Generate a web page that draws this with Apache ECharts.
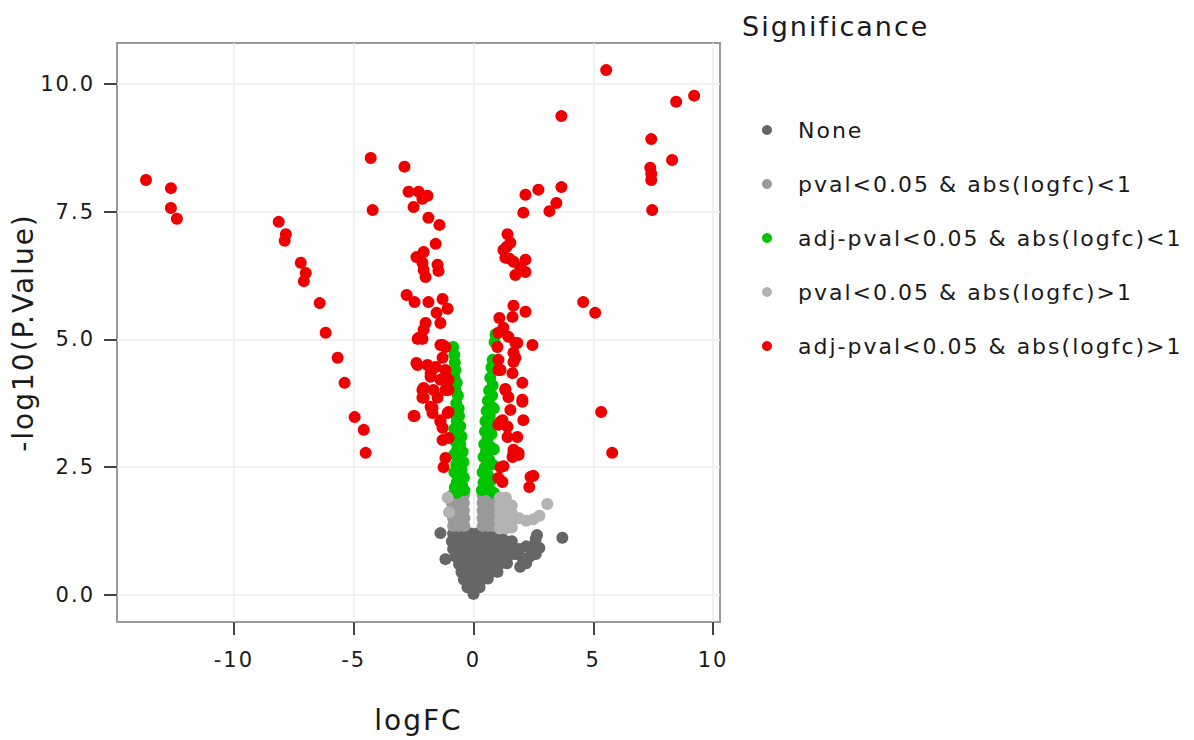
<!DOCTYPE html>
<html>
<head>
<meta charset="utf-8">
<title>Volcano plot</title>
<script src="https://cdn.jsdelivr.net/npm/echarts@6/dist/echarts.min.js"></script>
<style>
	html, body { margin: 0; padding: 0; background: #fff; }
	#chart { width: 1194px; height: 740px; }
	#chart text { letter-spacing: 2px; }
</style>
</head>
<body>
<div id="chart"></div>
<script>
// 分组名称
var groups = ['None', 'pval<0.05 & abs(logfc)<1', 'adj-pval<0.05 & abs(logfc)<1', 'pval<0.05 & abs(logfc)>1', 'adj-pval<0.05 & abs(logfc)>1']
var colors = ['#666666', '#999999', '#00c400', '#b3b3b3', '#ee0000']

var xTicks = [-10, -5, 0, 5, 10]
var yTicks = [0, 2.5, 5, 7.5, 10]

// [logFC, -log10(P.Value)]
var nonePts = [
	[-0.85, 1.2], [-0.6, 1.2], [-0.35, 1.2], [-0.1, 1.2], [0.15, 1.2], [0.4, 1.2], [0.65, 1.2], [0.9, 1.2], [1.15, 1.2],
	[-0.9, 1.05], [-0.65, 1.05], [-0.4, 1.05], [-0.15, 1.05], [0.1, 1.05], [0.35, 1.05], [0.6, 1.05], [0.85, 1.05], [1.1, 1.05], [1.35, 1.05], [1.6, 1.05], [2.6, 1.1],
	[-0.85, 0.9], [-0.6, 0.9], [-0.35, 0.9], [-0.1, 0.9], [0.15, 0.9], [0.4, 0.9], [0.65, 0.9], [0.9, 0.9], [1.15, 0.9], [1.4, 0.9], [1.65, 0.9], [1.9, 0.9], [2.2, 0.95], [2.45, 0.95], [2.75, 0.92],
	[-0.75, 0.75], [-0.5, 0.75], [-0.25, 0.75], [0, 0.75], [0.25, 0.75], [0.5, 0.75], [0.75, 0.75], [1.0, 0.75], [1.25, 0.75], [1.5, 0.78], [1.75, 0.8], [2.05, 0.72], [2.35, 0.75], [2.6, 0.8],
	[-0.6, 0.6], [-0.35, 0.6], [-0.1, 0.6], [0.15, 0.6], [0.4, 0.6], [0.65, 0.6], [0.9, 0.6], [1.15, 0.62], [1.4, 0.62], [1.95, 0.55], [2.2, 0.62],
	[-0.5, 0.45], [-0.25, 0.45], [0, 0.45], [0.25, 0.45], [0.5, 0.45], [0.75, 0.45], [1.0, 0.45],
	[-0.4, 0.3], [-0.15, 0.3], [0.1, 0.3], [0.35, 0.3], [0.6, 0.32],
	[-0.25, 0.15], [0, 0.15], [0.25, 0.15], [0, 0.02],
	[-1.38, 1.21], [-1.17, 0.7], [3.71, 1.12], [2.65, 1.17]
]
var pvalSmall = [
	[-0.9, 1.95], [-0.65, 1.95], [-0.4, 1.95], [-0.9, 1.8], [-0.65, 1.8], [-0.4, 1.8],
	[-0.9, 1.65], [-0.65, 1.65], [-0.4, 1.65], [-0.85, 1.5], [-0.62, 1.5], [-0.38, 1.5],
	[-0.85, 1.35], [-0.62, 1.35], [-0.38, 1.35],
	[0.38, 1.95], [0.6, 1.95], [0.82, 1.95], [0.38, 1.8], [0.6, 1.8], [0.82, 1.8],
	[0.38, 1.65], [0.6, 1.65], [0.82, 1.65], [0.38, 1.5], [0.6, 1.5], [0.82, 1.5],
	[0.38, 1.35], [0.6, 1.35], [0.82, 1.35]
]
var adjSmall = [
	[-0.85, 4.85], [-0.8, 4.7], [-0.78, 4.55], [-0.75, 4.4], [-0.8, 4.25], [-0.7, 4.15], [-0.75, 4.0], [-0.65, 3.9],
	[-0.72, 3.75], [-0.62, 3.65], [-0.78, 3.55], [-0.6, 3.5], [-0.7, 3.4], [-0.55, 3.3], [-0.8, 3.25], [-0.65, 3.15],
	[-0.5, 3.1], [-0.75, 3.0], [-0.55, 2.95], [-0.68, 2.85], [-0.45, 2.8], [-0.8, 2.75], [-0.58, 2.65], [-0.42, 2.6],
	[-0.72, 2.55], [-0.5, 2.45], [-0.8, 2.4], [-0.62, 2.35], [-0.4, 2.3], [-0.7, 2.2], [-0.48, 2.15], [-0.78, 2.1],
	[-0.58, 2.05], [-0.38, 2.05], [-0.7, 2.0],
	[0.92, 5.1], [0.88, 4.95], [0.8, 4.6], [0.75, 4.45], [0.85, 4.4], [0.7, 4.25], [0.8, 4.1], [0.65, 4.0],
	[0.78, 3.9], [0.6, 3.8], [0.72, 3.7], [0.85, 3.65], [0.55, 3.6], [0.68, 3.5], [0.5, 3.4], [0.8, 3.35],
	[0.62, 3.3], [0.48, 3.2], [0.75, 3.15], [0.58, 3.05], [0.45, 2.95], [0.7, 2.9], [0.85, 2.85], [0.52, 2.8],
	[0.42, 2.7], [0.65, 2.65], [0.8, 2.55], [0.48, 2.5], [0.38, 2.4], [0.6, 2.35], [0.75, 2.25], [0.42, 2.2],
	[0.55, 2.1], [0.35, 2.05], [0.7, 2.05], [0.85, 2.0]
]
var pvalLarge = [
	[-1.08, 1.9], [-1.02, 1.62],
	[1.1, 1.9], [1.35, 1.9], [1.1, 1.75], [1.35, 1.75], [1.6, 1.75], [1.1, 1.6], [1.35, 1.6], [1.6, 1.6],
	[1.1, 1.45], [1.35, 1.45], [1.6, 1.45], [1.1, 1.3], [1.35, 1.3], [1.6, 1.32],
	[1.9, 1.5], [2.2, 1.45], [2.5, 1.48], [2.75, 1.55], [3.08, 1.78]
]
var adjLarge = [
	[-13.67, 8.12], [-12.63, 7.96], [-12.63, 7.57], [-12.38, 7.36], [-8.13, 7.3], [-7.83, 7.06], [-7.88, 6.93],
	[-7.21, 6.5], [-7.0, 6.3], [-7.08, 6.14], [-6.42, 5.71], [-6.17, 5.13], [-5.67, 4.64], [-5.38, 4.15],
	[-4.96, 3.48], [-4.58, 3.23], [-4.5, 2.78], [-4.29, 8.55], [-4.21, 7.53],
	[-2.88, 8.38], [-2.71, 7.89], [-2.29, 7.89], [-1.92, 7.81], [-2.13, 7.75], [-2.5, 7.59], [-1.88, 7.38], [-1.42, 7.24],
	[-1.58, 6.87], [-2.08, 6.71], [-2.38, 6.61], [-2.13, 6.5], [-1.5, 6.46], [-1.46, 6.34], [-2.08, 6.36], [-2.0, 6.22],
	[-2.79, 5.87], [-2.46, 5.73], [-1.88, 5.73], [-1.29, 5.79], [-1.08, 5.6], [-1.54, 5.52], [-1.38, 5.32], [-2.0, 5.32],
	[-2.08, 5.19], [-2.33, 5.01], [-2.13, 5.01], [-1.38, 4.89], [-1.17, 4.85],
	[-2.38, 4.54], [-1.92, 4.5], [-1.58, 4.46], [-1.29, 4.64], [-1.17, 4.4], [-1.79, 4.27], [-1.38, 4.21], [-1.04, 4.21],
	[-2.08, 4.05], [-1.67, 4.01], [-1.17, 4.01], [-2.08, 3.86], [-1.5, 3.86], [-1.79, 3.68], [-2.46, 3.5], [-1.71, 3.56],
	[-1.08, 3.56], [-1.38, 3.39], [-1.29, 3.27],
	[-2.29, 5.03], [-1.29, 4.89], [-2.33, 4.5], [-1.79, 4.34], [-1.17, 4.27], [-2.13, 4.01], [-1.04, 4.01], [-2.13, 3.86],
	[-1.71, 3.66], [-2.5, 3.5], [-1.04, 3.58], [-1.38, 3.42], [-1.29, 3.03], [-1.04, 3.07], [-1.17, 2.68], [-1.25, 2.5],
	[5.54, 10.27], [9.21, 9.77], [8.46, 9.65], [3.67, 9.37], [7.42, 8.92], [8.29, 8.51], [7.38, 8.36], [7.42, 8.24],
	[7.42, 8.12], [7.46, 7.53], [3.67, 7.98], [4.58, 5.73], [5.08, 5.52], [5.33, 3.58], [5.79, 2.78],
	[2.17, 7.83], [2.71, 7.93], [2.08, 7.48], [3.17, 7.51], [3.46, 7.67],
	[1.42, 7.06], [1.54, 6.89], [1.25, 6.75], [1.33, 6.6], [1.67, 6.52], [2.17, 6.56], [1.96, 6.4], [2.17, 6.32],
	[1.75, 6.26], [1.38, 6.81], [1.5, 6.58],
	[1.67, 5.66], [2.17, 5.54], [1.08, 5.42], [1.63, 5.44], [1.25, 5.23], [1.04, 5.13], [1.46, 5.05], [1.83, 4.93],
	[2.46, 4.89], [1.0, 4.85], [1.67, 4.74], [1.75, 4.64], [1.04, 4.6], [1.13, 4.4], [1.63, 4.34], [2.04, 4.15],
	[1.33, 4.03], [1.46, 3.87], [2.04, 3.78], [1.54, 3.62], [1.21, 3.42], [1.04, 3.33], [1.42, 3.29], [2.08, 3.42],
	[1.42, 3.09], [1.83, 3.09], [1.67, 2.84], [1.88, 2.78], [1.63, 2.7], [1.25, 2.52], [1.04, 2.29], [2.5, 2.33], [2.33, 2.11],
	[1.75, 4.93], [1.67, 4.56], [1.04, 4.4], [1.33, 4.01], [2.04, 3.82], [1.13, 3.39], [1.67, 2.78], [1.88, 2.74],
	[1.13, 2.5], [1.21, 2.21], [2.38, 2.31]
]
var seriesData = [nonePts, pvalSmall, adjSmall, pvalLarge, adjLarge]

var font = 'DejaVu Sans'
var chart = echarts.init(document.getElementById('chart'), null, { renderer: 'svg' })

var series = groups.map(function(name, i) {
	return {
		name: name,
		type: 'scatter',
		data: seriesData[i],
		symbolSize: 12,
		itemStyle: { color: colors[i], opacity: 1 },
		emphasis: { disabled: true },
		z: 2 + i
	}
})

var option = {
	animation: false,
	textStyle: { fontFamily: font },
	title: {
		text: 'Significance',
		left: 737,
		top: 8,
		textStyle: { fontFamily: font, fontSize: 27, fontWeight: 'normal', color: '#1a1a1a' }
	},
	legend: {
		orient: 'vertical',
		left: 757,
		top: 114,
		icon: 'circle',
		itemWidth: 52,
		itemHeight: 10,
		itemGap: 32,
		selectedMode: false,
		data: groups,
		textStyle: { fontFamily: font, fontSize: 22, lineHeight: 20, color: '#1a1a1a' }
	},
	grid: {
		left: 117,
		top: 43,
		right: 474,
		bottom: 118,
		show: true,
		borderColor: '#9a9a9a',
		borderWidth: 2,
		containLabel: false,
		outerBoundsMode: 'none'
	},
	xAxis: {
		type: 'value',
		min: -14.88,
		max: 10.29,
		name: 'logFC',
		nameLocation: 'middle',
		nameGap: 84,
		nameTextStyle: { fontFamily: font, fontSize: 28, color: '#1a1a1a' },
		axisLine: { show: false, onZero: false },
		axisTick: { show: true, length: 13, customValues: xTicks, lineStyle: { color: '#444', width: 2 } },
		axisLabel: { customValues: xTicks, margin: 27, fontSize: 21, color: '#1a1a1a', fontFamily: font },
		splitLine: { show: true, lineStyle: { color: '#ececec', width: 1.5 } }
	},
	yAxis: {
		type: 'value',
		min: -0.53,
		max: 10.8,
		name: '-log10(P.Value)',
		nameLocation: 'middle',
		nameGap: 73,
		nameTextStyle: { fontFamily: font, fontSize: 28, color: '#1a1a1a' },
		axisLine: { show: false, onZero: false },
		axisTick: { show: true, length: 13, customValues: yTicks, lineStyle: { color: '#444', width: 2 } },
		axisLabel: {
			customValues: yTicks, margin: 22, fontSize: 21, color: '#1a1a1a', fontFamily: font,
			formatter: function(v) { return v.toFixed(1) }
		},
		splitLine: { show: true, lineStyle: { color: '#ececec', width: 1.5 } }
	},
	series: series
}

chart.setOption(option)
</script>
</body>
</html>
